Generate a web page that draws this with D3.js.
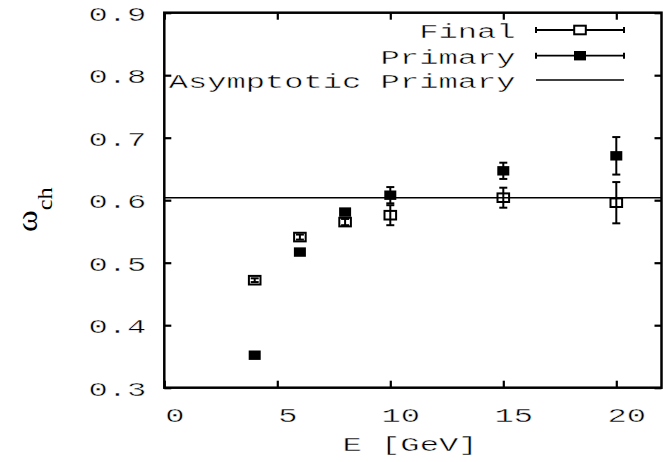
<!DOCTYPE html>
<html>
<head>
<meta charset="utf-8">
<script src="https://cdn.jsdelivr.net/npm/d3@7"></script>
<style>
  html, body { margin: 0; padding: 0; background: #fff; }
  svg { display: block; }
  text { fill: #000; }
  text.mono { stroke: #fff; stroke-width: 0.4px; paint-order: normal; }
</style>
</head>
<body>
<svg id="chart" width="663" height="462"></svg>
<script>
// Charged multiplicity weight vs. energy
const energies       = [4, 6, 8, 10, 15, 20];
const finalOmega     = [0.472, 0.541, 0.565, 0.576, 0.604, 0.596];
const finalErr       = [0.003, 0.004, 0.005, 0.016, 0.016, 0.033];
const primaryOmega   = [0.352, 0.517, 0.581, 0.608, 0.647, 0.671];
const primaryErr     = [0.002, 0.003, 0.004, 0.013, 0.013, 0.030];
const asymptoticOmega = 0.604;

const xTicks = [0, 5, 10, 15, 20];
const yTicks = [0.3, 0.4, 0.5, 0.6, 0.7, 0.8, 0.9];
const legendLabels = ["Final", "Primary", "Asymptotic Primary"];

const svg = d3.select("#chart");
const mono = "'Liberation Mono', 'Courier New', monospace";
const FS = 21, SX = 1.53;   // wide typewriter lettering

const x = d3.scaleLinear().domain([0, 22]).range([164.3, 661.5]);
const y = d3.scaleLinear().domain([0.3, 0.9]).range([387.7, 12.7]);

const [x0, x1] = x.range();
const [yb, yt] = y.range();

// axes with inward ticks
function styleAxis(g) {
  g.select(".domain").remove();
  g.selectAll(".tick line").attr("stroke", "#000").attr("stroke-width", 2.2);
}

const gx = svg.append("g").attr("transform", `translate(0,${yb})`)
  .call(d3.axisBottom(x).tickValues(xTicks).tickSize(-7).tickFormat(d3.format("d")));
styleAxis(gx);
gx.selectAll(".tick text")
  .attr("class", "mono")
  .attr("font-family", mono).attr("font-size", FS)
  .attr("text-anchor", "middle")
  .attr("dy", null).attr("y", 34.6).attr("x", 10 / SX)
  .attr("transform", `scale(${SX},1)`);

const gy = svg.append("g").attr("transform", `translate(${x0},0)`)
  .call(d3.axisLeft(y).tickValues(yTicks).tickSize(-7).tickFormat(d3.format(".1f")));
styleAxis(gy);
gy.selectAll(".tick text")
  .attr("class", "mono")
  .attr("font-family", mono).attr("font-size", FS)
  .attr("text-anchor", "end")
  .attr("dy", null).attr("y", 7.5).attr("x", -18 / SX)
  .attr("transform", `scale(${SX},1)`);

const gxt = svg.append("g").attr("transform", `translate(0,${yt})`)
  .call(d3.axisTop(x).tickValues(xTicks).tickSize(-7).tickFormat(""));
styleAxis(gxt);
const gyr = svg.append("g").attr("transform", `translate(${x1},0)`)
  .call(d3.axisRight(y).tickValues(yTicks).tickSize(-7).tickFormat(""));
styleAxis(gyr);

// frame
svg.append("rect")
  .attr("x", x0).attr("y", yt).attr("width", x1 - x0).attr("height", yb - yt)
  .attr("fill", "none").attr("stroke", "#000").attr("stroke-width", 2.5);

// axis titles
svg.append("text")
  .attr("class", "mono")
  .attr("font-family", mono).attr("font-size", FS)
  .attr("text-anchor", "middle")
  .attr("transform", `translate(410,451) scale(${SX},1)`)
  .text("E [GeV]");

const yl = svg.append("text")
  .attr("font-family", "'Liberation Serif', 'Times New Roman', serif")
  .attr("transform", "translate(37,232) rotate(-90) scale(1.1,1)")
  .attr("text-anchor", "start");
yl.append("tspan").attr("font-size", 30).text("ω");
yl.append("tspan").attr("font-size", 22).attr("dy", 15).text("ch");

// asymptotic level
svg.append("line")
  .attr("x1", x0).attr("x2", x1)
  .attr("y1", y(asymptoticOmega)).attr("y2", y(asymptoticOmega))
  .attr("stroke", "#000").attr("stroke-width", 1.4);

// data with error bars
function drawSeries(vals, errs, filled) {
  const g = svg.append("g");
  const pts = energies.map((e, i) => ({ e, v: vals[i], err: errs[i] }));
  const bar = g.selectAll("g.pt").data(pts).join("g").attr("class", "pt");
  bar.append("line")
    .attr("x1", d => x(d.e)).attr("x2", d => x(d.e))
    .attr("y1", d => y(d.v - d.err)).attr("y2", d => y(d.v + d.err))
    .attr("stroke", "#000").attr("stroke-width", 2);
  [-1, 1].forEach(s => {
    bar.append("line")
      .attr("x1", d => x(d.e) - 4).attr("x2", d => x(d.e) + 4)
      .attr("y1", d => y(d.v + s * d.err)).attr("y2", d => y(d.v + s * d.err))
      .attr("stroke", "#000").attr("stroke-width", 2);
  });
  if (filled) {
    bar.append("rect")
      .attr("x", d => x(d.e) - 6).attr("y", d => y(d.v) - 4.7)
      .attr("width", 12).attr("height", 9.4)
      .attr("fill", "#000");
  } else {
    bar.append("rect")
      .attr("x", d => x(d.e) - 5.8).attr("y", d => y(d.v) - 4.3)
      .attr("width", 11.6).attr("height", 8.6)
      .attr("fill", "none").attr("stroke", "#000").attr("stroke-width", 2);
  }
}
drawSeries(finalOmega, finalErr, false);
drawSeries(primaryOmega, primaryErr, true);

// legend
const rows = [30, 55.7, 80];
const lg = svg.append("g");
legendLabels.forEach((lab, i) => {
  const ry = rows[i];
  lg.append("text")
    .attr("class", "mono")
    .attr("font-family", mono).attr("font-size", FS)
    .attr("text-anchor", "end")
    .attr("transform", `translate(515.5,${ry + 8}) scale(${SX},1)`)
    .text(lab);
  if (i < 2) {
    lg.append("line").attr("x1", 536).attr("x2", 624).attr("y1", ry).attr("y2", ry)
      .attr("stroke", "#000").attr("stroke-width", 1.8);
    [536, 624].forEach(cx => lg.append("line")
      .attr("x1", cx).attr("x2", cx).attr("y1", ry - 3).attr("y2", ry + 3)
      .attr("stroke", "#000").attr("stroke-width", 2));
    if (i === 0) {
      lg.append("rect").attr("x", 580 - 5.8).attr("y", ry - 4.3)
        .attr("width", 11.6).attr("height", 8.6)
        .attr("fill", "#fff").attr("stroke", "#000").attr("stroke-width", 2);
    } else {
      lg.append("rect").attr("x", 580 - 6).attr("y", ry - 4.7)
        .attr("width", 12).attr("height", 9.4).attr("fill", "#000");
    }
  } else {
    lg.append("line").attr("x1", 536).attr("x2", 624).attr("y1", ry).attr("y2", ry)
      .attr("stroke", "#000").attr("stroke-width", 1.4);
  }
});
</script>
</body>
</html>
